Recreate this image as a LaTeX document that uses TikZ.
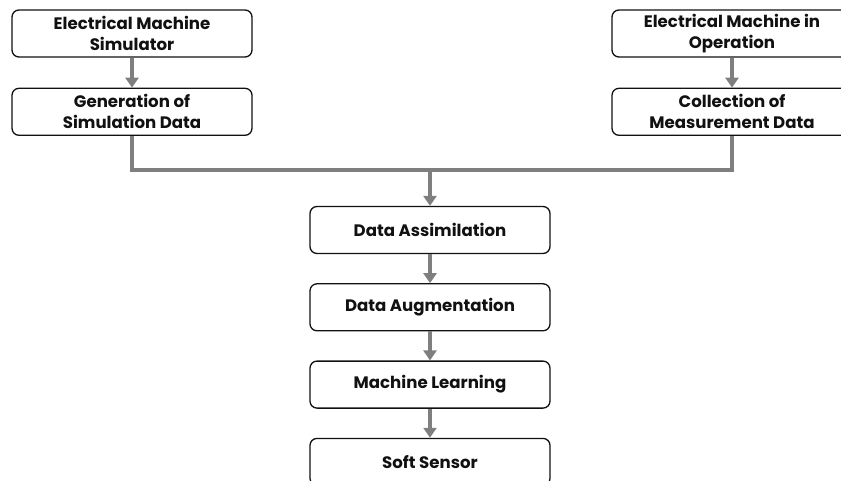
\documentclass[tikz,border=0pt]{standalone}
\usepackage{fontspec}
\setmainfont{Poppins}
\usetikzlibrary{arrows.meta, positioning, calc}
\usepackage{xcolor}
\definecolor{Ink}{HTML}{111111}
\definecolor{Flow}{HTML}{7F7F7F}

\begin{document}
\begin{tikzpicture}[
            x=1pt, y=-1pt,
            node distance=29pt,
            stage/.style={
                rectangle,
                draw=Ink,
                fill=white,
                line width=1.3pt,
                rounded corners=7pt,
                minimum height=47pt,
                minimum width=240pt,
                align=center,
                font=\bfseries\fontsize{16.6}{21}\selectfont,
                text=Ink,
                inner sep=2pt
            },
            flow/.style={-{Triangle[width=13pt,length=10pt]}, line width=4.6pt, color=Flow},
            feed/.style={line width=4.6pt, color=Flow}
        ]
            \useasboundingbox (0,0) rectangle (841,481);

            \node[stage] (sim) at (132,33.5) {Electrical Machine\\Simulator};
            \node[stage, below=30pt of sim] (gen) {Generation of\\Simulation Data};
            \node[stage] (oper) at (732,33.5) {Electrical Machine in\\Operation};
            \node[stage, below=30pt of oper] (meas) {Collection of\\Measurement Data};

            \node[stage] (assim) at (430,230) {Data Assimilation};
            \node[stage, below=of assim] (augm) {Data Augmentation};
            \node[stage, below=of augm] (learn) {Machine Learning};
            \node[stage, below=of learn] (soft) {Soft Sensor};

            \coordinate (join) at (430,170);

            % Source branches
            \draw[flow] (sim) -- (gen);
            \draw[flow] (oper) -- (meas);
            \draw[feed] (gen.south) |- (join);
            \draw[feed] (meas.south) |- (join);

            % Main forward flow
            \draw[flow] (join) -- (assim);
            \draw[flow] (assim) -- (augm);
            \draw[flow] (augm) -- (learn);
            \draw[flow] (learn) -- (soft);
        \end{tikzpicture}
\end{document}
